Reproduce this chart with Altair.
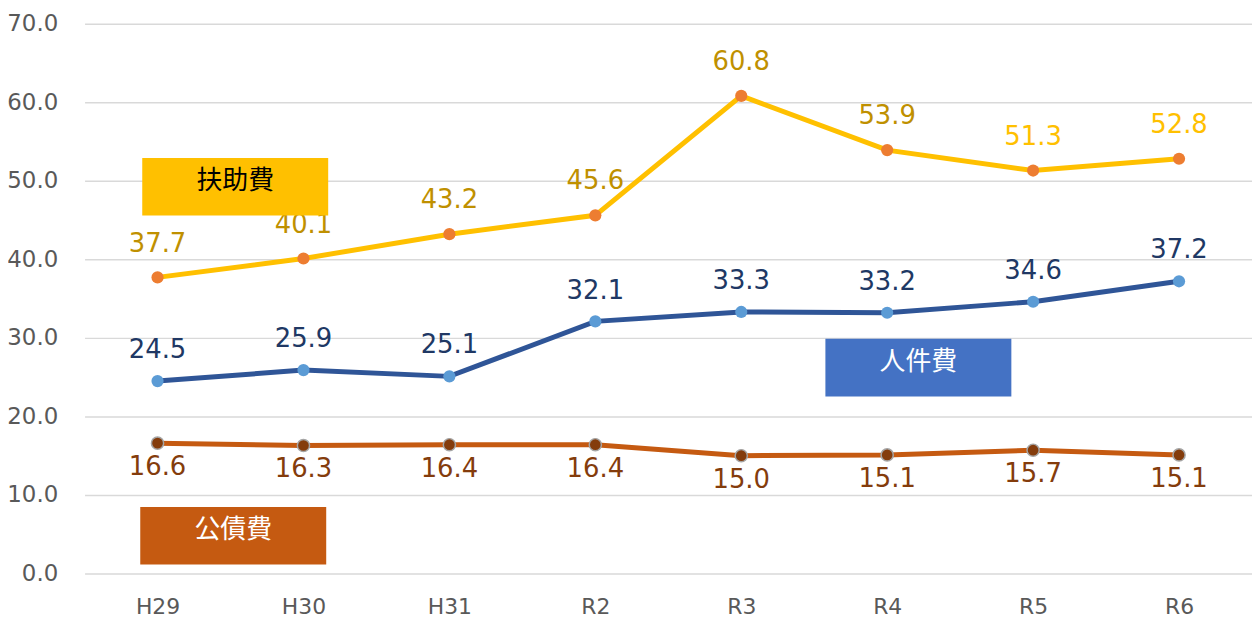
import altair as alt
import pandas as pd

categories = ["H29", "H30", "H31", "R2", "R3", "R4", "R5", "R6"]
fujo = [37.7, 40.1, 43.2, 45.6, 60.8, 53.9, 51.3, 52.8]      # 扶助費
jinken = [24.5, 25.9, 25.1, 32.1, 33.3, 33.2, 34.6, 37.2]    # 人件費
kosai = [16.6, 16.3, 16.4, 16.4, 15.0, 15.1, 15.7, 15.1]     # 公債費

df = pd.DataFrame({"cat": categories, "fujo": fujo, "jinken": jinken, "kosai": kosai})

NUM_FONT = "DejaVu Sans"
JP_FONT = "Noto Sans CJK JP"

x = alt.X("cat:N", sort=categories, title=None,
          scale=alt.Scale(type="point", padding=0.5),
          axis=alt.Axis(labelAngle=0, labelFontSize=22, labelColor="#595959", labelFont=NUM_FONT,
                        labelPadding=23, ticks=False, domain=False, grid=False))
yscale = alt.Scale(domain=[0, 70])
yaxis = alt.Axis(values=[0, 10, 20, 30, 40, 50, 60, 70], format=".1f", labelFontSize=23,
                 labelColor="#595959", labelFont=NUM_FONT, labelPadding=27, ticks=False,
                 domain=False, grid=True, gridColor="#D9D9D9", gridWidth=1.5)

base = alt.Chart(df).encode(x=x)


def series(field, line_color, pt_fill, pt_stroke, label_color, dy):
    y = alt.Y(f"{field}:Q", scale=yscale, title=None, axis=yaxis)
    line = base.mark_line(color=line_color, strokeWidth=5).encode(y=y)
    pts = base.mark_point(filled=True, size=150, opacity=1, fill=pt_fill,
                          stroke=pt_stroke if pt_stroke else pt_fill,
                          strokeWidth=1.5 if pt_stroke else 0).encode(y=y)
    txt = base.mark_text(fontSize=26, font=NUM_FONT, dy=dy, baseline="middle").encode(
        y=y, text=alt.Text(f"{field}:Q", format=".1f"), color=label_color)
    return [line, pts, txt]


fujo_color = alt.condition(alt.FieldOneOfPredicate(field="cat", oneOf=["R5", "R6"]),
                           alt.value("#FFC000"), alt.value("#BF9000"))

layers = []
layers += series("kosai", "#C55A11", "#843C0C", "#A5A5A5", alt.value("#843C0C"), 24)
layers += series("jinken", "#2F5597", "#5B9BD5", None, alt.value("#203864"), -31)
layers += series("fujo", "#FFC000", "#ED7D31", None, fujo_color, -34)

one = alt.Data(values=[{}])


def box(x1, x2, y1, y2, fill, label, text_color):
    r = alt.Chart(one).mark_rect(color=fill).encode(
        x=alt.value(x1), x2=alt.value(x2), y=alt.value(y1), y2=alt.value(y2))
    t = alt.Chart(one).mark_text(text=label, font=JP_FONT, fontSize=26, color=text_color,
                                 baseline="middle", align="center").encode(
        x=alt.value((x1 + x2) / 2), y=alt.value(y1 + 23))
    return [r, t]


layers += box(58, 245, 135, 193, "#FFC000", "扶助費", "#000000")
layers += box(745, 932, 317, 375, "#4472C4", "人件費", "#FFFFFF")
layers += box(56, 243, 486, 544, "#C55A11", "公債費", "#FFFFFF")

chart = alt.layer(*layers).properties(
    width=1174, height=553,
    autosize=alt.AutoSizeParams(type="none"),
    padding={"left": 77, "top": 14, "right": 0, "bottom": 48},
).configure(background="white").configure_view(strokeWidth=0, stroke=None)

chart.save("out.html", embed_options={"renderer": "svg", "actions": False})
